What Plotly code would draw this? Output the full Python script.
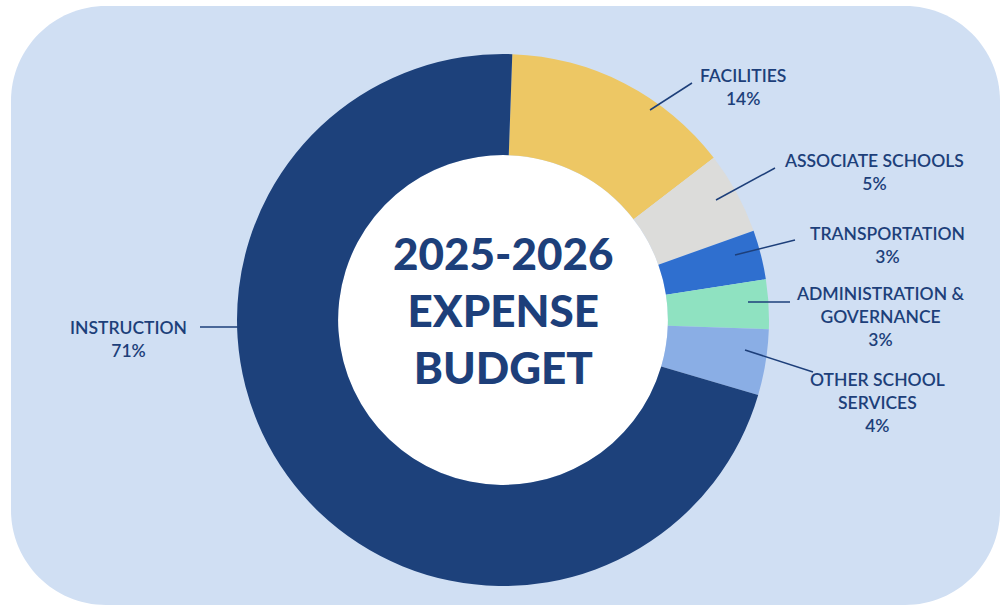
import plotly.graph_objects as go

# ---- data ----
categories = ["FACILITIES", "ASSOCIATE SCHOOLS", "TRANSPORTATION",
              "ADMINISTRATION &<br>GOVERNANCE", "OTHER SCHOOL<br>SERVICES", "INSTRUCTION"]
values = [14, 5, 3, 3, 4, 71]
colors = ["#edc764", "#dcdcda", "#2f6fcf", "#8fe2c1", "#8aaee5", "#1d417b"]

W, H = 1007, 607
NAVY = "#1d3f7a"

def px(x):
    return x / W

def py(y):
    return 1 - y / H

cx, cy, R = 503, 320, 266
hole = 0.62

# rounded background rectangle
x0, x1, y0, y1, r = 11, 1000, 6, 605, 95
k = 0.5523 * r
def P(x, y):
    return f"{px(x):.5f},{py(y):.5f}"
path = (f"M {P(x0 + r, y0)} L {P(x1 - r, y0)} "
        f"C {P(x1 - r + k, y0)} {P(x1, y0 + r - k)} {P(x1, y0 + r)} "
        f"L {P(x1, y1 - r)} "
        f"C {P(x1, y1 - r + k)} {P(x1 - r + k, y1)} {P(x1 - r, y1)} "
        f"L {P(x0 + r, y1)} "
        f"C {P(x0 + r - k, y1)} {P(x0, y1 - r + k)} {P(x0, y1 - r)} "
        f"L {P(x0, y0 + r)} "
        f"C {P(x0, y0 + r - k)} {P(x0 + r - k, y0)} {P(x0 + r, y0)} Z")

fig = go.Figure()
fig.add_trace(go.Pie(
    values=values, labels=categories, sort=False, direction="clockwise",
    rotation=2, hole=hole, textinfo="none", hoverinfo="label+percent",
    marker=dict(colors=colors, line=dict(width=0)),
    domain=dict(x=[px(cx - R), px(cx + R)], y=[py(cy + R), py(cy - R)]),
    showlegend=False,
))

shapes = [
    dict(type="path", path=path, xref="paper", yref="paper", layer="below",
         fillcolor="#d0dff3", line=dict(width=0)),
    dict(type="circle", xref="paper", yref="paper", layer="below",
         x0=px(cx - R * hole), x1=px(cx + R * hole),
         y0=py(cy + R * hole), y1=py(cy - R * hole),
         fillcolor="white", line=dict(width=0)),
]

# leader lines (pixel positions) and label centers
leaders = [
    ((650, 110), (692, 83), (743, 87)),
    ((716, 200), (775, 168), (874, 172)),
    ((735, 255), (795, 240), (887, 245)),
    ((748, 302), (790, 302), (880, 317)),
    ((745, 350), (813, 372), (877, 402)),
    ((240, 327), (200, 327), (128, 339)),
]
annotations = []
for cat, val, (a, b, t) in zip(categories, values, leaders):
    shapes.append(dict(type="line", xref="paper", yref="paper",
                       x0=px(a[0]), y0=py(a[1]), x1=px(b[0]), y1=py(b[1]),
                       line=dict(color=NAVY, width=1.5)))
    annotations.append(dict(
        x=px(t[0]), y=py(t[1]), xref="paper", yref="paper",
        text=f"{cat}<br>{val}%", showarrow=False, align="center",
        xanchor="center", yanchor="middle",
        font=dict(family="Lato", size=17.5, color=NAVY, weight=600)))

annotations.append(dict(
    x=px(cx), y=py(cy - 10), xref="paper", yref="paper",
    text="2025-2026<br>EXPENSE<br>BUDGET", showarrow=False,
    align="center", xanchor="center", yanchor="middle",
    font=dict(family="Lato", size=44, color=NAVY, weight=900)))

fig.update_layout(
    width=W, height=H, margin=dict(l=0, r=0, t=0, b=0),
    paper_bgcolor="white", plot_bgcolor="white",
    shapes=shapes, annotations=annotations,
)

fig.write_html("out.html", config={"displayModeBar": False},
               post_script="document.body.style.margin='0';document.body.style.overflow='hidden';")
